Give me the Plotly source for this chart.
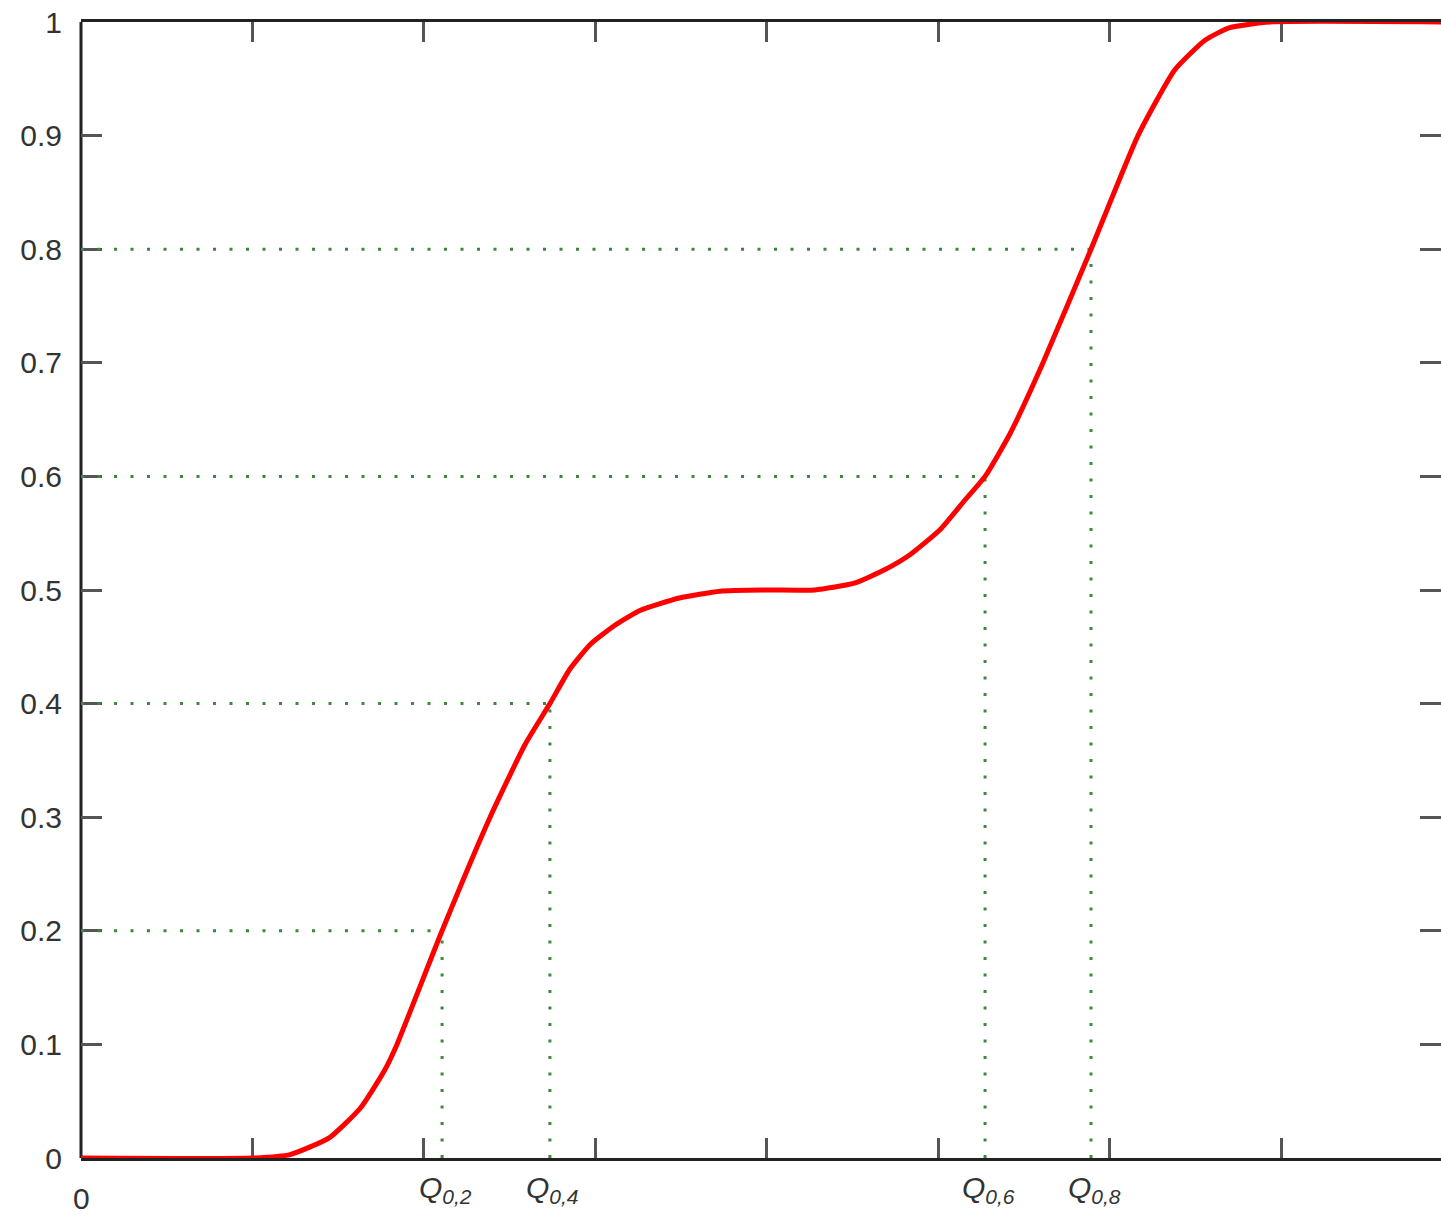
import plotly.graph_objects as go

# CDF curve
cdf_x = [0.0, 1.0, 1.22, 1.45, 1.63, 1.77, 1.843, 2.106, 2.386, 2.59, 2.735,
         2.85, 2.97, 3.114, 3.26, 3.49, 3.727, 4.0, 4.28, 4.51, 4.69, 4.835, 5.01, 5.155,
         5.273, 5.42, 5.611, 5.891, 6.165, 6.38, 6.556, 6.70, 6.935, 7.95]
cdf_y = [0.0, 0.0, 0.003, 0.018, 0.044, 0.077, 0.1, 0.2, 0.3, 0.364, 0.4,
         0.43, 0.452, 0.469, 0.482, 0.493, 0.499, 0.5, 0.5, 0.506, 0.518, 0.531, 0.553, 0.579,
         0.6, 0.638, 0.7, 0.8, 0.9, 0.958, 0.984, 0.995, 1.0, 1.0]

# quantiles
q_levels = [0.2, 0.4, 0.6, 0.8]
q_x = [2.106, 2.735, 5.273, 5.891]
q_labels = ["<i>Q<sub>0,2</sub></i>", "<i>Q<sub>0,4</sub></i>",
            "<i>Q<sub>0,6</sub></i>", "<i>Q<sub>0,8</sub></i>"]

x_ticks = [1, 2, 3, 4, 5, 6, 7]
y_ticks = [0, 0.1, 0.2, 0.3, 0.4, 0.5, 0.6, 0.7, 0.8, 0.9, 1]

GREEN = "#3a8a3a"
fig = go.Figure()

for qx, p in zip(q_x, q_levels):
    fig.add_trace(go.Scatter(x=[0, qx], y=[p, p], mode="lines",
                             line=dict(color=GREEN, width=3, dash="3px,13.5px"),
                             hoverinfo="skip", showlegend=False))
    fig.add_trace(go.Scatter(x=[qx, qx], y=[0, p], mode="lines",
                             line=dict(color=GREEN, width=3, dash="3px,13.5px"),
                             hoverinfo="skip", showlegend=False))

fig.add_trace(go.Scatter(x=cdf_x, y=cdf_y, mode="lines",
                         line=dict(color="#ff0000", width=5, shape="spline", smoothing=0.5),
                         cliponaxis=False, showlegend=False))

font_main = dict(family="Liberation Sans, Arial, sans-serif", size=30, color="#333333")

for qx, lab in zip(q_x, q_labels):
    fig.add_annotation(x=qx, y=0, xref="x", yref="y", text=lab, showarrow=False,
                       xanchor="center", yanchor="middle", xshift=3, yshift=-31,
                       font=font_main)
fig.add_annotation(x=0, y=0, xref="x", yref="y", text="0", showarrow=False,
                   xanchor="center", yanchor="middle", yshift=-40, font=font_main)

# left axis line
fig.add_shape(type="line", xref="paper", yref="paper", x0=0, x1=0, y0=0, y1=1,
              line=dict(color="#222222", width=3), layer="below")

fig.update_layout(
    width=1441, height=1217,
    margin=dict(l=81, r=0, t=22, b=59),
    paper_bgcolor="white", plot_bgcolor="white",
    font=font_main,
    showlegend=False,
    xaxis=dict(range=[0, 1360 / 171.45], tickvals=x_ticks, showticklabels=False,
               ticks="inside", ticklen=20, tickwidth=3, tickcolor="#555555",
               showline=True, linecolor="#222222", linewidth=3, mirror="ticks",
               showgrid=False, zeroline=False, layer="below traces"),
    yaxis=dict(range=[0, 1], tickvals=y_ticks, ticks="inside", ticklen=21, tickwidth=3,
               tickcolor="#555555", showline=False, mirror="ticks",
               showgrid=False, zeroline=False, ticklabelstandoff=18,
               tickfont=font_main, layer="below traces"),
)

fig.write_html("out.html")
